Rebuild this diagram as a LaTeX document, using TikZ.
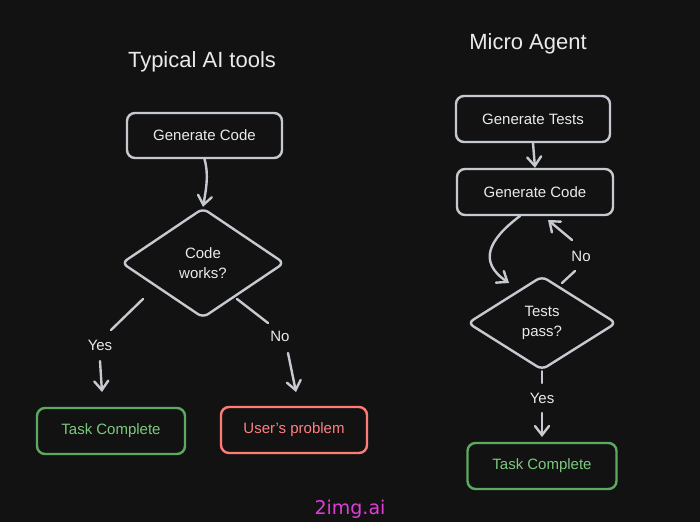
\documentclass[tikz,border=0pt]{standalone}
\usepackage{fontspec}
\setmainfont{Liberation Sans}
\newfontfamily\wmfont{DejaVu Sans}
\usetikzlibrary{shapes.geometric,arrows.meta}
\definecolor{bgc}{HTML}{121212}
\definecolor{linec}{HTML}{C6CAD0}
\definecolor{txtc}{HTML}{EAEAEA}
\definecolor{greenline}{HTML}{5CAA60}
\definecolor{greentxt}{HTML}{7CC97E}
\definecolor{redline}{HTML}{FF7B76}
\definecolor{redtxt}{HTML}{FF8080}
\definecolor{wmc}{HTML}{E03CD8}
\tikzset{
  box/.style={draw=linec, line width=2.4pt, rounded corners=8pt, fill=bgc,
    text=txtc, font=\fontsize{15}{17}\selectfont, inner sep=0pt},
  gbox/.style={box, draw=greenline, text=greentxt},
  rbox/.style={box, draw=redline, text=redtxt},
  dia/.style={diamond, draw=linec, line width=2.4pt, rounded corners=6pt,
    text=txtc, font=\fontsize{15}{20}\selectfont, align=center, inner sep=0pt,
    aspect=1.5},
  ttl/.style={text=txtc, font=\fontsize{22}{24}\selectfont},
  lbl/.style={text=txtc, font=\fontsize{15}{17}\selectfont},
  conn/.style={draw=linec, line width=2.4pt, line cap=round},
  arr/.style={conn, -{Straight Barb[length=9pt,width=14pt,line cap=round]}},
}
\begin{document}
\begin{tikzpicture}[x=1pt,y=-1pt]
\fill[bgc] (0,0) rectangle (700,522);
\useasboundingbox (0,0) rectangle (700,522);
% ---------- left ----------
\node[ttl] (t1) at (202,62) {Typical AI tools};
\node[box, minimum width=155pt, minimum height=45pt] (gc1) at (204.5,135.5) {Generate Code};
\node[dia, minimum width=163pt, minimum height=110pt] (d1) at (203,263) {Code\\works?};
\node[gbox, minimum width=148pt, minimum height=46pt] (tc1) at (111,431) {Task Complete};
\node[rbox, minimum width=146pt, minimum height=46pt] (up1) at (294,430) {User's problem};
\draw[arr] (gc1.south) .. controls (209,175) and (206,190) .. (d1.north);
\coordinate (y1a) at (143,299);
\coordinate (y1b) at (111,330);
\node[lbl] (yes1) at (100,345) {Yes};
\coordinate (a1a) at (100,361);
\coordinate (a1b) at (102,392);
\draw[conn] (y1a) -- (y1b);
\draw[arr] (a1a) -- (a1b);
\coordinate (n1a) at (237,299);
\coordinate (n1b) at (268,323);
\node[lbl] (no1) at (280,336) {No};
\coordinate (b1a) at (288,353);
\coordinate (b1b) at (296,392);
\draw[conn] (n1a) -- (n1b);
\draw[arr] (b1a) -- (b1b);
% ---------- right ----------
\node[ttl] (t2) at (528,44) {Micro Agent};
\node[box, minimum width=154pt, minimum height=46pt] (gt) at (533,119) {Generate Tests};
\node[box, minimum width=156pt, minimum height=46pt] (gc2) at (535,192) {Generate Code};
\node[dia, minimum width=149pt, minimum height=94pt] (d2) at (542,323) {Tests\\pass?};
\node[gbox, minimum width=149pt, minimum height=46pt] (tc2) at (542,466) {Task Complete};
\draw[arr] (gt.south) -- (gc2.north);
\coordinate (c2a) at (520,216);
\coordinate (c2b) at (509,283);
\draw[arr] (c2a) .. controls (488,240) and (478,262) .. (c2b);
\coordinate (n2a) at (562,283);
\coordinate (n2b) at (575,271);
\node[lbl] (no2) at (581,256) {No};
\coordinate (b2a) at (572,240);
\coordinate (b2b) at (548,220);
\draw[conn] (n2a) -- (n2b);
\draw[arr] (b2a) -- (b2b);
\coordinate (y2b) at (542,383);
\node[lbl] (yes2) at (542,398) {Yes};
\coordinate (a2a) at (542,413);
\coordinate (a2b) at (542,437);
\draw[conn] (d2.south) -- (y2b);
\draw[arr] (a2a) -- (a2b);
% ---------- watermark ----------
\node[text=wmc, font=\wmfont\fontsize{19}{22}\selectfont] (wm) at (350,509) {2img.ai};
\end{tikzpicture}
\end{document}
